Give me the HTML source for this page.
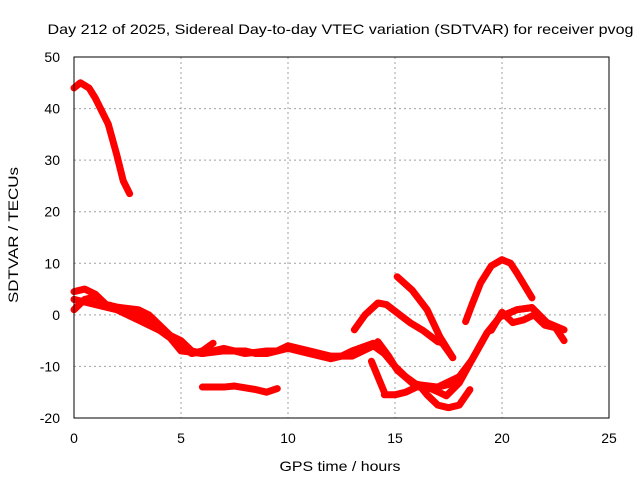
<!DOCTYPE html>
<html><head><meta charset="utf-8"><style>body{margin:0;background:#fff}svg{display:block;font-family:"Liberation Sans",sans-serif}</style></head>
<body>
<svg id="chart" width="640" height="480" xmlns="http://www.w3.org/2000/svg">
<text x="340.5" y="34" font-size="14" text-anchor="middle" textLength="586" lengthAdjust="spacingAndGlyphs">Day 212 of 2025, Sidereal Day-to-day VTEC variation (SDTVAR) for receiver pvog</text>
<text x="340" y="471" font-size="14" text-anchor="middle" textLength="121" lengthAdjust="spacingAndGlyphs">GPS time / hours</text>
<text x="18" y="235" font-size="14" text-anchor="middle" transform="rotate(-90 18 235)" textLength="136" lengthAdjust="spacingAndGlyphs">SDTVAR / TECUs</text>
<g id="grid"></g><g id="ticks"></g><g id="series"></g>
<rect x="74" y="57" width="535" height="361" fill="none" stroke="#000" stroke-width="1"/>
</svg>
<script>
const xTicks=[0,5,10,15,20,25];
const yTicks=[-20,-10,0,10,20,30,40,50];
const trackTop=[[0,44],[0.3,45],[0.7,44],[1,42],[1.6,37],[2,31],[2.3,26],[2.6,23.5]];
const trackB=[[0,4.5],[0.5,5],[1,4],[1.5,2],[2,1.5],[3,1],[3.5,0],[4,-2],[4.5,-4],[5,-6],[5.5,-7.5],[6,-7],[6.5,-5.5]];
const trackC=[[0,1],[0.5,3],[1,3.5],[1.5,2],[2.5,1],[3,0.5],[3.5,-1.5],[4,-3],[4.5,-4.5],[5,-7],[6,-7.5],[7,-7],[8,-7],[8.5,-7.5],[9,-7.5],[10,-6.5],[11,-7.5],[12,-8.5],[12.5,-8],[13,-7],[14,-5.5]];
const trackD=[[0,3],[1,2],[2,1],[3,-1],[4,-3],[5,-5],[5.5,-7],[6,-7.5],[7,-6.5],[8,-7.5],[9,-7],[9.5,-7],[10,-6],[11,-7],[12,-8],[13,-8],[13.5,-7],[14,-6],[14.5,-7.5],[15,-10],[15.5,-12],[16,-13.5],[17,-14],[18,-12],[18.6,-8.7],[19.3,-3.5],[19.9,-0.4],[20.7,1],[21.4,1.4]];
const trackLow=[[6,-14],[7,-14],[7.5,-13.8],[8.5,-14.5],[9,-15],[9.5,-14.3]];
const trackArc=[[13.1,-2.9],[13.6,0],[14.2,2.3],[14.6,2],[15.1,0.4],[15.7,-1.5],[16.3,-3],[17,-5.2],[17.2,-5.4],[17.7,-8.3]];
const trackFall=[[15.1,7.4],[15.8,4.8],[16.5,1],[17.1,-4.3],[17.7,-8.3]];
const trackPeak=[[18.3,-1.3],[18.6,2],[19,6.2],[19.5,9.5],[20,10.7],[20.4,10],[20.7,8.1],[21.4,3.3]];
const trackDeep=[[14.2,-5.2],[14.7,-8],[15.1,-10.7],[15.8,-13.2],[16.5,-14],[17.1,-15.1],[17.4,-15.7],[18,-13.2],[18.6,-8.7],[19.3,-3.5],[19.9,-0.4],[20.7,1],[21.4,1.4],[22.1,-1.5],[22.9,-2.9]];
const trackLow2=[[14.5,-15.5],[15,-15.5],[15.5,-15],[16,-14],[17,-14],[17.5,-13.5],[18,-12]];
const trackBottom=[[16.2,-14],[16.5,-15.5],[17,-17.5],[17.5,-18],[18,-17.5],[18.5,-14.5]];
const trackShort=[[13.9,-9],[14.5,-15]];
const trackRight=[[19.5,-3],[20,0.5],[20.5,-1.5],[21,-1],[21.5,0],[22,-2],[22.5,-2.5],[22.9,-5]];
const tracks=[trackTop,trackB,trackC,trackD,trackLow,trackArc,trackFall,trackPeak,trackDeep,trackLow2,trackBottom,trackShort,trackRight];
const NS="http://www.w3.org/2000/svg";
const X=h=>74+h*535/25, Y=v=>418-(v+20)*361/70;
const grid=document.getElementById('grid'),tk=document.getElementById('ticks'),ser=document.getElementById('series');
function mk(tag,attrs,parent){const e=document.createElementNS(NS,tag);for(const k in attrs)e.setAttribute(k,attrs[k]);parent.appendChild(e);return e;}
xTicks.forEach(t=>{
 if(t>0&&t<25){const g=mk('line',{x1:X(t),x2:X(t),y1:57,y2:418,stroke:'#a0a0a0','stroke-dasharray':'2,3'},grid);
 
 }
 const l=mk('text',{x:X(t),y:443,'font-size':14,'text-anchor':'middle'},tk);l.textContent=t;
 
 
});
yTicks.forEach(t=>{
 if(t>-20&&t<50){const g=mk('line',{x1:74,x2:609,y1:Y(t),y2:Y(t),stroke:'#a0a0a0','stroke-dasharray':'2,3'},grid);
 
 }
 const l=mk('text',{x:60,y:Y(t)+5,'font-size':14,'text-anchor':'end'},tk);l.textContent=t;
 
 
});
tracks.forEach(tr=>{
 const p=mk('polyline',{points:tr.map(d=>X(d[0])+','+Y(d[1])).join(' '),fill:'none',stroke:'#ff0000','stroke-width':7,'stroke-linejoin':'round','stroke-linecap':'round'},ser);
 
 
});
</script>
</body></html>
